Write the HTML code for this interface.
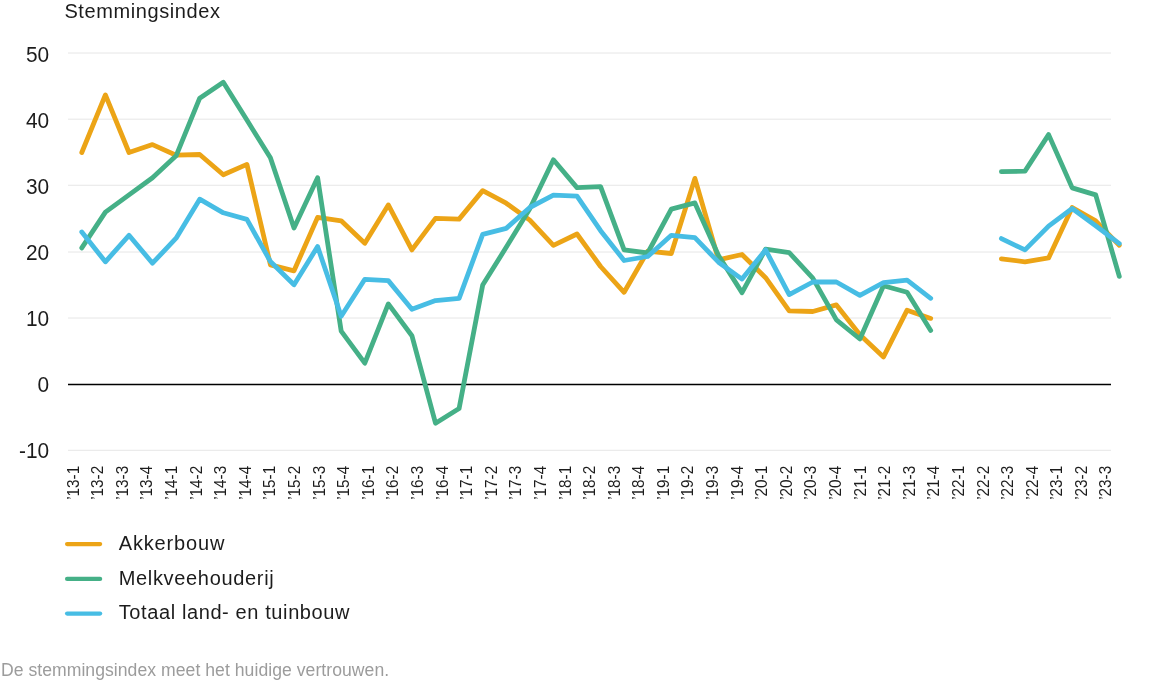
<!DOCTYPE html>
<html lang="nl">
<head>
<meta charset="utf-8">
<title>Stemmingsindex</title>
<style>
html,body{margin:0;padding:0;background:#fff;}
body{width:1158px;height:693px;overflow:hidden;}
svg{display:block;}
</style>
</head>
<body>
<svg width="1158" height="693" viewBox="0 0 1158 693">
<rect width="1158" height="693" fill="#fff"/>
<line x1="68" x2="1111" y1="53.0" y2="53.0" stroke="#e6e6e6" stroke-width="1"/>
<line x1="68" x2="1111" y1="119.2" y2="119.2" stroke="#e6e6e6" stroke-width="1"/>
<line x1="68" x2="1111" y1="185.25" y2="185.25" stroke="#e6e6e6" stroke-width="1"/>
<line x1="68" x2="1111" y1="252.0" y2="252.0" stroke="#e6e6e6" stroke-width="1"/>
<line x1="68" x2="1111" y1="318.0" y2="318.0" stroke="#e6e6e6" stroke-width="1"/>
<line x1="68" x2="1111" y1="450.3" y2="450.3" stroke="#e6e6e6" stroke-width="1"/>
<line x1="68" x2="1111" y1="384.5" y2="384.5" stroke="#000" stroke-width="1.5"/>
<g font-family="'Liberation Sans', Arial, sans-serif" font-size="22.8" fill="#1c1c1c" text-anchor="end">
<text transform="translate(49.1 61.60) scale(0.915 1)">50</text>
<text transform="translate(49.1 127.63) scale(0.915 1)">40</text>
<text transform="translate(49.1 193.66) scale(0.915 1)">30</text>
<text transform="translate(49.1 259.69) scale(0.915 1)">20</text>
<text transform="translate(49.1 325.72) scale(0.915 1)">10</text>
<text transform="translate(49.1 391.75) scale(0.915 1)">0</text>
<text transform="translate(49.1 457.78) scale(0.915 1)">-10</text>
</g>
<text x="64.4" y="17.9" font-family="'Liberation Sans', Arial, sans-serif" font-size="20" fill="#1c1c1c" textLength="155.6" lengthAdjust="spacing">Stemmingsindex</text>
<g font-family="'Liberation Sans', Arial, sans-serif" font-size="16.9" fill="#1c1c1c">
<text transform="translate(78.70 499.8) rotate(-90) scale(0.905 1)">’13-1</text>
<text transform="translate(103.29 499.8) rotate(-90) scale(0.905 1)">’13-2</text>
<text transform="translate(127.88 499.8) rotate(-90) scale(0.905 1)">’13-3</text>
<text transform="translate(152.47 499.8) rotate(-90) scale(0.905 1)">’13-4</text>
<text transform="translate(177.06 499.8) rotate(-90) scale(0.905 1)">’14-1</text>
<text transform="translate(201.65 499.8) rotate(-90) scale(0.905 1)">’14-2</text>
<text transform="translate(226.24 499.8) rotate(-90) scale(0.905 1)">’14-3</text>
<text transform="translate(250.83 499.8) rotate(-90) scale(0.905 1)">’14-4</text>
<text transform="translate(275.42 499.8) rotate(-90) scale(0.905 1)">’15-1</text>
<text transform="translate(300.01 499.8) rotate(-90) scale(0.905 1)">’15-2</text>
<text transform="translate(324.60 499.8) rotate(-90) scale(0.905 1)">’15-3</text>
<text transform="translate(349.19 499.8) rotate(-90) scale(0.905 1)">’15-4</text>
<text transform="translate(373.78 499.8) rotate(-90) scale(0.905 1)">’16-1</text>
<text transform="translate(398.37 499.8) rotate(-90) scale(0.905 1)">’16-2</text>
<text transform="translate(422.96 499.8) rotate(-90) scale(0.905 1)">’16-3</text>
<text transform="translate(447.55 499.8) rotate(-90) scale(0.905 1)">’16-4</text>
<text transform="translate(472.14 499.8) rotate(-90) scale(0.905 1)">’17-1</text>
<text transform="translate(496.73 499.8) rotate(-90) scale(0.905 1)">’17-2</text>
<text transform="translate(521.32 499.8) rotate(-90) scale(0.905 1)">’17-3</text>
<text transform="translate(545.91 499.8) rotate(-90) scale(0.905 1)">’17-4</text>
<text transform="translate(570.50 499.8) rotate(-90) scale(0.905 1)">’18-1</text>
<text transform="translate(595.09 499.8) rotate(-90) scale(0.905 1)">’18-2</text>
<text transform="translate(619.68 499.8) rotate(-90) scale(0.905 1)">’18-3</text>
<text transform="translate(644.27 499.8) rotate(-90) scale(0.905 1)">’18-4</text>
<text transform="translate(668.86 499.8) rotate(-90) scale(0.905 1)">’19-1</text>
<text transform="translate(693.45 499.8) rotate(-90) scale(0.905 1)">’19-2</text>
<text transform="translate(718.04 499.8) rotate(-90) scale(0.905 1)">’19-3</text>
<text transform="translate(742.63 499.8) rotate(-90) scale(0.905 1)">’19-4</text>
<text transform="translate(767.22 499.8) rotate(-90) scale(0.905 1)">’20-1</text>
<text transform="translate(791.81 499.8) rotate(-90) scale(0.905 1)">’20-2</text>
<text transform="translate(816.40 499.8) rotate(-90) scale(0.905 1)">’20-3</text>
<text transform="translate(840.99 499.8) rotate(-90) scale(0.905 1)">’20-4</text>
<text transform="translate(865.58 499.8) rotate(-90) scale(0.905 1)">’21-1</text>
<text transform="translate(890.17 499.8) rotate(-90) scale(0.905 1)">’21-2</text>
<text transform="translate(914.76 499.8) rotate(-90) scale(0.905 1)">’21-3</text>
<text transform="translate(939.35 499.8) rotate(-90) scale(0.905 1)">’21-4</text>
<text transform="translate(963.94 499.8) rotate(-90) scale(0.905 1)">’22-1</text>
<text transform="translate(988.53 499.8) rotate(-90) scale(0.905 1)">’22-2</text>
<text transform="translate(1013.12 499.8) rotate(-90) scale(0.905 1)">’22-3</text>
<text transform="translate(1037.71 499.8) rotate(-90) scale(0.905 1)">’22-4</text>
<text transform="translate(1062.30 499.8) rotate(-90) scale(0.905 1)">’23-1</text>
<text transform="translate(1086.89 499.8) rotate(-90) scale(0.905 1)">’23-2</text>
<text transform="translate(1111.48 499.8) rotate(-90) scale(0.905 1)">’23-3</text>
</g>
<path d="M81.8 152.5 L105.4 94.9 L129.0 152.5 L152.5 144.6 L176.1 155.2 L199.7 154.5 L223.3 174.7 L246.9 164.4 L270.4 264.8 L294.0 270.8 L317.6 217.4 L341.2 220.8 L364.8 243.3 L388.3 204.9 L411.9 249.9 L435.5 218.4 L459.1 219.1 L482.7 190.6 L506.2 203.2 L529.8 220.1 L553.4 245.3 L577.0 234.0 L600.6 266.5 L624.1 292.3 L647.7 251.2 L671.3 253.5 L694.9 178.4 L718.5 259.8 L742.0 254.5 L765.6 277.7 L789.2 310.9 L812.8 311.5 L836.4 304.9 L859.9 334.7 L883.5 356.9 L907.1 310.2 L930.7 318.4 M1001.4 258.9 L1025.0 261.8 L1048.6 257.9 L1072.2 207.5 L1095.7 220.8 L1119.3 245.3" fill="none" stroke="#eca416" stroke-width="4.8" stroke-linejoin="round" stroke-linecap="round"/>
<path d="M81.8 247.9 L105.4 212.1 L129.0 194.9 L152.5 177.7 L176.1 155.8 L199.7 98.2 L223.3 82.3 L246.9 120.1 L270.4 157.8 L294.0 228.0 L317.6 177.7 L341.2 331.1 L364.8 363.2 L388.3 303.9 L411.9 335.7 L435.5 423.2 L459.1 408.5 L482.7 285.0 L506.2 247.3 L529.8 208.8 L553.4 159.8 L577.0 187.6 L600.6 186.6 L624.1 249.9 L647.7 253.0 L671.3 209.1 L694.9 202.9 L718.5 255.5 L742.0 292.6 L765.6 249.2 L789.2 252.6 L812.8 278.1 L836.4 319.9 L859.9 339.0 L883.5 285.7 L907.1 292.3 L930.7 330.4 M1001.4 171.7 L1025.0 171.1 L1048.6 134.6 L1072.2 187.9 L1095.7 194.9 L1119.3 276.4" fill="none" stroke="#45b087" stroke-width="4.8" stroke-linejoin="round" stroke-linecap="round"/>
<path d="M81.8 232.0 L105.4 261.8 L129.0 235.3 L152.5 263.2 L176.1 238.2 L199.7 199.2 L223.3 212.8 L246.9 219.4 L270.4 261.5 L294.0 284.7 L317.6 246.6 L341.2 316.2 L364.8 279.3 L388.3 280.6 L411.9 309.2 L435.5 300.6 L459.1 298.3 L482.7 234.3 L506.2 228.4 L529.8 207.5 L553.4 195.2 L577.0 196.2 L600.6 230.7 L624.1 260.5 L647.7 256.5 L671.3 235.3 L694.9 237.7 L718.5 262.2 L742.0 279.1 L765.6 249.9 L789.2 294.6 L812.8 282.0 L836.4 282.0 L859.9 295.3 L883.5 282.7 L907.1 280.2 L930.7 298.3 M1001.4 238.6 L1025.0 249.9 L1048.6 226.1 L1072.2 208.5 L1095.7 225.7 L1119.3 243.6" fill="none" stroke="#47bde4" stroke-width="4.8" stroke-linejoin="round" stroke-linecap="round"/>
<g font-family="'Liberation Sans', Arial, sans-serif" font-size="20" fill="#1c1c1c">
<line x1="67.1" x2="100.1" y1="544.1" y2="544.1" stroke="#eca416" stroke-width="4.3" stroke-linecap="round"/>
<text x="118.7" y="550.0" textLength="105.8" lengthAdjust="spacing">Akkerbouw</text>
<line x1="67.1" x2="100.1" y1="578.9" y2="578.9" stroke="#45b087" stroke-width="4.3" stroke-linecap="round"/>
<text x="118.7" y="584.5" textLength="155.0" lengthAdjust="spacing">Melkveehouderij</text>
<line x1="67.1" x2="100.1" y1="613.6" y2="613.6" stroke="#47bde4" stroke-width="4.3" stroke-linecap="round"/>
<text x="118.7" y="619.0" textLength="230.8" lengthAdjust="spacing">Totaal land- en tuinbouw</text>
</g>
<text x="0.9" y="675.6" textLength="388.2" lengthAdjust="spacing" font-family="'Liberation Sans', Arial, sans-serif" font-size="17.6" fill="#9c9c9c">De stemmingsindex meet het huidige vertrouwen.</text>
</svg>
</body>
</html>
